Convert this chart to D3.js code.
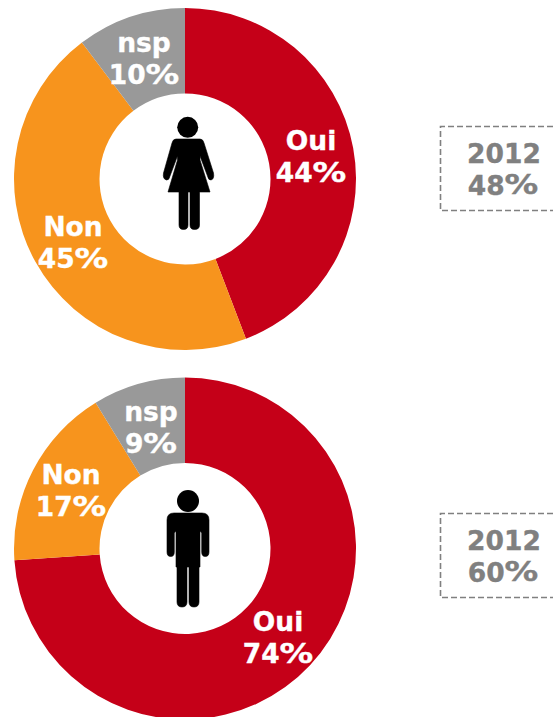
<!DOCTYPE html>
<html><head><meta charset="utf-8">
<script src="https://cdn.jsdelivr.net/npm/d3@7/dist/d3.min.js"></script>
<style>html,body{margin:0;padding:0;background:#fff;overflow:hidden}svg{display:block}
text{font-family:"DejaVu Sans",Verdana,sans-serif;font-weight:bold;font-size:26.5px;stroke-width:.35px}</style>
</head><body><svg id="c" width="553" height="717"></svg>
<script>
const categories = ["Oui","Non","nsp"];
const womenLabels = [44,45,10];
const menLabels = [74,17,9];
const womenShares = [44.2,45.5,10.3];
const menShares = [73.9,17.35,8.75];
const sliceColors = ["#c50018","#f7941d","#999999"];
const womenBox = ["2012",48];
const menBox = ["2012",60];
const womenLabelAnchors = [[311,150],[73,236],[144,52]];
const menLabelAnchors = [[278,631],[71,484],[151,421]];
const femalePath = "M176,139 Q173,139 172,143 L163.5,173 Q162.5,179 166.5,180 Q169,180.5 170,176 L177.5,156 L177.5,160 L168,192 H179 V225 Q179,229.5 183.5,229.5 Q188,229.5 188,225 V192 H190 V225 Q190,229.5 194.5,229.5 Q199.5,229.5 199.5,225 V192 H210 L200,160 L200,156 L207.5,176 Q208.5,180.5 211,180 Q214.5,179 213.5,173 L204,143 Q203,139 200,139 Z";
const malePath = "M174,513 Q167,513 167,520 V552 Q167,556.5 170.7,556.5 Q174.3,556.5 174.3,552 V533 L176,531 V567 H177 V602 Q177,607 182,607 Q187,607 187,602 V567 H189 V602 Q189,607 194,607 Q199,607 199,602 V567 H200 V531 L201.7,533 V552 Q201.7,556.5 205.3,556.5 Q209,556.5 209,552 V520 Q209,513 202,513 Z";

const svg = d3.select("#c");
const pie = d3.pie().sort(null);
const arc = d3.arc().innerRadius(85.5).outerRadius(171);

function percentText(x, y, value, fill){
  const g = svg.append("g").attr("fill",fill).attr("stroke",fill);
  const num = g.append("text").attr("y",y).text(value);
  const w = num.node().getComputedTextLength();
  const pct = g.append("text").attr("y",y).text("%");
  const pw = pct.node().getComputedTextLength() * 1.27;
  const left = x - (w + pw) / 2;
  num.attr("x",left);
  pct.attr("transform",`translate(${left + w},0) scale(1.27,1)`);
}
function donut(cx, cy, shares, labels, anchors, boxLines, boxY, icon, head){
  const g = svg.append("g").attr("transform",`translate(${cx},${cy})`);
  g.selectAll("path").data(pie(shares)).join("path")
    .attr("d",arc).attr("fill",(d,i)=>sliceColors[i]);
  svg.append("path").attr("d",icon).attr("fill","#000").attr("stroke","#000").attr("stroke-width",0.6).attr("stroke-linejoin","round");
  svg.append("circle").attr("cx",head[0]).attr("cy",head[1]).attr("r",head[2]).attr("fill","#000");
  categories.forEach((c,i)=>{
    svg.append("text").attr("x",anchors[i][0]).attr("y",anchors[i][1])
      .attr("fill","#fff").attr("stroke","#fff").attr("text-anchor","middle").text(c);
    percentText(anchors[i][0],anchors[i][1]+32,labels[i],"#fff");
  });
  svg.append("path")
    .attr("d",`M553,${boxY}H440.5V${boxY+84}H553`)
    .attr("fill","none").attr("stroke","#808080").attr("stroke-width",1.6).attr("stroke-dasharray","6 3");
  svg.append("text").attr("x",504).attr("y",boxY+36).attr("fill","#808080").attr("stroke","#808080").attr("text-anchor","middle").text(boxLines[0]);
  percentText(503,boxY+68,boxLines[1],"#808080");
}
donut(185,179,womenShares,womenLabels,womenLabelAnchors,womenBox,126.5,femalePath,[187.7,127.3,10.5]);
donut(185,548.5,menShares,menLabels,menLabelAnchors,menBox,513.5,malePath,[188,501,11]);
</script></body></html>
